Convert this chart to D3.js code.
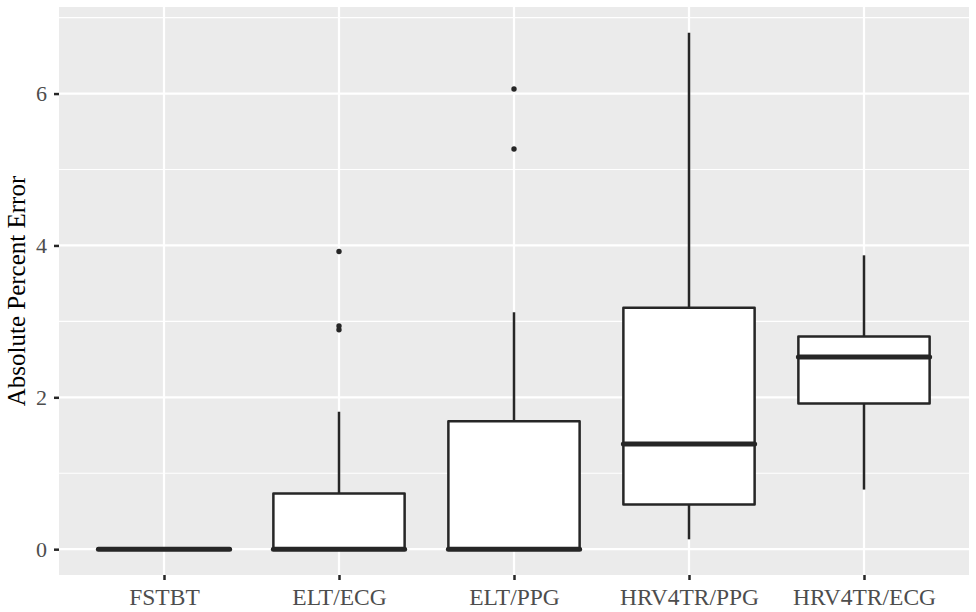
<!DOCTYPE html>
<html>
<head>
<meta charset="utf-8">
<script src="https://cdn.jsdelivr.net/npm/d3@7"></script>
<style>
  body { margin: 0; background: #fff; }
  svg text { font-family: "Liberation Serif", "DejaVu Serif", serif; }
</style>
</head>
<body>
<div id="chart"></div>
<script>
// categories and box stats
var categories = ["FSTBT", "ELT/ECG", "ELT/PPG", "HRV4TR/PPG", "HRV4TR/ECG"];
var lowerWhisker = [0, 0, 0, 0.13, 0.785];
var q1 = [0, 0, 0, 0.59, 1.92];
var median = [0, 0, 0, 1.385, 2.53];
var q3 = [0, 0.733, 1.685, 3.18, 2.80];
var upperWhisker = [0, 1.81, 3.12, 6.80, 3.87];
var outliers = [[], [2.89, 2.94, 3.92], [5.27, 6.06], [], []];
var yTicks = [0, 2, 4, 6];
var yMinor = [1, 3, 5, 7];

var width = 976, height = 612;
var margin = {top: 7, right: 7, bottom: 37, left: 59};
var pw = width - margin.left - margin.right,
    ph = height - margin.top - margin.bottom;

var svg = d3.select("#chart").append("svg")
  .attr("width", width)
  .attr("height", height);

var g = svg.append("g")
  .attr("transform", "translate(" + margin.left + "," + margin.top + ")");

// ggplot style expansion: 5% on continuous, 0.6 on discrete
var yMax = 6.8, pad = yMax * 0.05;
var y = d3.scaleLinear().domain([-pad, yMax + pad]).range([ph, 0]);
var x = d3.scalePoint().domain(categories).range([0, pw]).padding(0.6);
var step = x.step();
var boxW = step * 0.75;

g.append("rect")
  .attr("width", pw).attr("height", ph)
  .attr("fill", "#EBEBEB");

// minor grid
g.selectAll(".minor").data(yMinor).enter().append("line")
  .attr("x1", 0).attr("x2", pw)
  .attr("y1", function(d) { return y(d); })
  .attr("y2", function(d) { return y(d); })
  .attr("stroke", "#fff").attr("stroke-width", 1.1);

// major grid
g.selectAll(".hmajor").data(yTicks).enter().append("line")
  .attr("x1", 0).attr("x2", pw)
  .attr("y1", function(d) { return y(d); })
  .attr("y2", function(d) { return y(d); })
  .attr("stroke", "#fff").attr("stroke-width", 2.2);

g.selectAll(".vmajor").data(categories).enter().append("line")
  .attr("y1", 0).attr("y2", ph)
  .attr("x1", function(d) { return x(d); })
  .attr("x2", function(d) { return x(d); })
  .attr("stroke", "#fff").attr("stroke-width", 2.2);

// boxes
var boxes = categories.map(function(c, i) {
  return {cat: c, lo: lowerWhisker[i], q1: q1[i], med: median[i], q3: q3[i], hi: upperWhisker[i], out: outliers[i]};
});

var bg = g.selectAll(".box").data(boxes).enter().append("g")
  .attr("transform", function(d) { return "translate(" + x(d.cat) + ",0)"; });

var ink = "#262626";
var lw = 2.5;

bg.append("line")
  .attr("x1", 0).attr("x2", 0)
  .attr("y1", function(d) { return y(d.q3); })
  .attr("y2", function(d) { return y(d.hi); })
  .attr("stroke", ink).attr("stroke-width", lw);

bg.append("line")
  .attr("x1", 0).attr("x2", 0)
  .attr("y1", function(d) { return y(d.q1); })
  .attr("y2", function(d) { return y(d.lo); })
  .attr("stroke", ink).attr("stroke-width", lw);

bg.append("rect")
  .attr("x", -boxW / 2).attr("width", boxW)
  .attr("y", function(d) { return y(d.q3); })
  .attr("height", function(d) { return y(d.q1) - y(d.q3); })
  .attr("fill", "#fff")
  .attr("stroke", ink).attr("stroke-width", lw)
  .attr("stroke-linejoin", "round");

bg.append("line")
  .attr("x1", -boxW / 2).attr("x2", boxW / 2)
  .attr("y1", function(d) { return y(d.med); })
  .attr("y2", function(d) { return y(d.med); })
  .attr("stroke", ink).attr("stroke-width", 5)
  .attr("stroke-linecap", "round");

bg.selectAll("circle").data(function(d) { return d.out; }).enter().append("circle")
  .attr("cx", 0)
  .attr("cy", function(d) { return y(d); })
  .attr("r", 2.7)
  .attr("fill", ink);

// axes
var yAxis = g.append("g")
  .call(d3.axisLeft(y).tickValues(yTicks).tickSize(5).tickPadding(7).tickFormat(d3.format("d")));
yAxis.select(".domain").remove();
yAxis.selectAll("line").attr("stroke", ink).attr("stroke-width", lw);
yAxis.selectAll("text").attr("fill", "#4D4D4D").style("font-size", "22px");

var xAxis = g.append("g")
  .attr("transform", "translate(0," + ph + ")")
  .call(d3.axisBottom(x).tickSize(5));
xAxis.select(".domain").remove();
xAxis.selectAll("line").attr("stroke", ink).attr("stroke-width", lw);
xAxis.selectAll("text")
  .attr("y", 30).attr("dy", null)
  .attr("fill", "#4D4D4D").style("font-size", "23.5px");

svg.append("text")
  .attr("transform", "translate(25," + (margin.top + ph / 2) + ") rotate(-90)")
  .attr("text-anchor", "middle")
  .attr("fill", "#000")
  .style("font-size", "25px")
  .text("Absolute Percent Error");
</script>
</body>
</html>
